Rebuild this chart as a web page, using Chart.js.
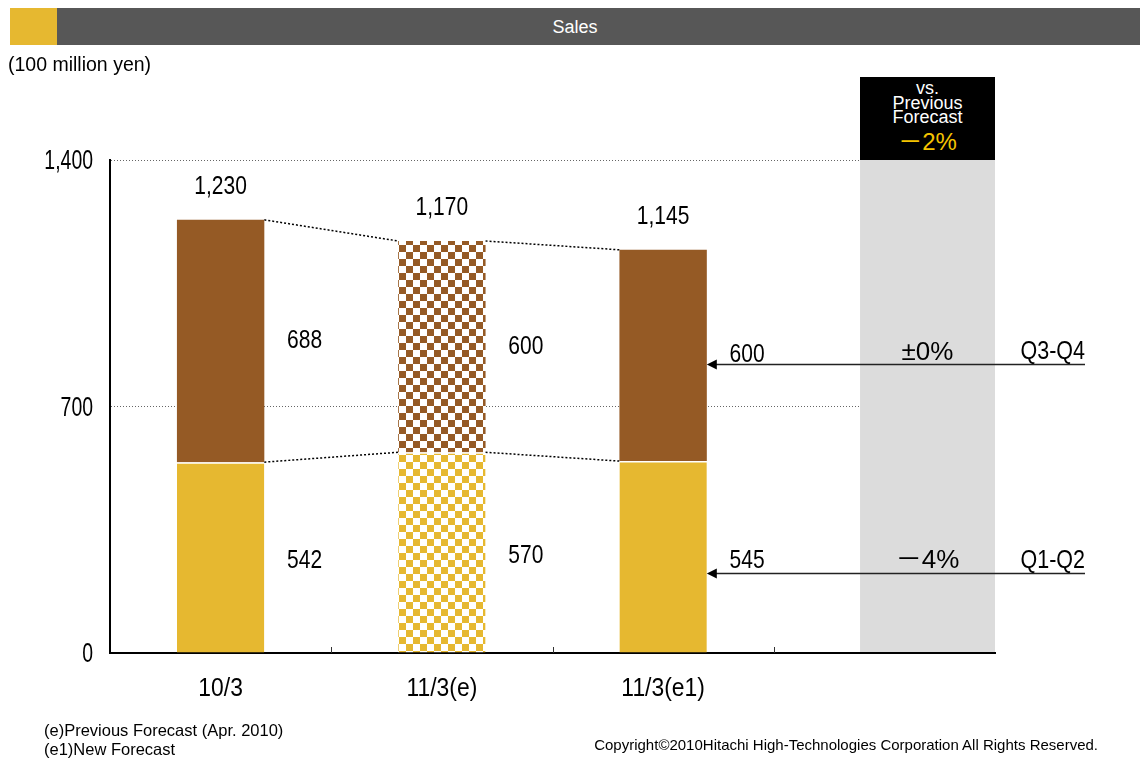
<!DOCTYPE html>
<html>
<head>
<meta charset="utf-8">
<script src="https://cdn.jsdelivr.net/npm/chart.js@4"></script>
<style>
  body { margin: 0; background: #fff; font-family: 'Liberation Sans', Arial, sans-serif; }
  #wrap { position: relative; width: 1140px; height: 763px; overflow: hidden; }
  #c { position: absolute; left: 0; top: 0; }
  .abs { position: absolute; white-space: nowrap; }
  #band { left: 10px; top: 8px; width: 1130px; height: 37px; background: #575757; color: #fff; font-size: 18px; line-height: 39px; text-align: center; }
  #mark { left: 10px; top: 8px; width: 47px; height: 37px; background: #e6b830; }
  #unit { left: 8px; top: 53px; font-size: 19.5px; }
  #vsbox { left: 860px; top: 77px; width: 135px; height: 83px; background: #000; color: #fff; text-align: center; font-size: 18px; line-height: 14.5px; padding-top: 4px; box-sizing: border-box; }
  #vsbox .pct { color: #f5c400; font-size: 24px; line-height: 26px; margin-top: 4px; font-family: 'Liberation Sans', 'Noto Sans CJK JP', sans-serif; }
  #notes { left: 44px; top: 721px; font-size: 16.5px; line-height: 19px; }
  #copy { right: 42px; top: 736px; font-size: 15px; }
</style>
</head>
<body>
<div id="wrap">
  <canvas id="c" width="1140" height="763"></canvas>
  <div class="abs" id="band">Sales</div>
  <div class="abs" id="mark"></div>
  <div class="abs" id="unit">(100 million yen)</div>
  <div class="abs" id="vsbox">vs.<br>Previous<br>Forecast<div class="pct" id="vsTotal"></div></div>
  <div class="abs" id="notes">(e)Previous Forecast (Apr. 2010)<br>(e1)New Forecast</div>
  <div class="abs" id="copy">Copyright©2010Hitachi High-Technologies Corporation All Rights Reserved.</div>
</div>
<script>
// data
const categories = ['10/3', '11/3(e)', '11/3(e1)', ''];
const q1q2 = [542, 570, 545, null];
const q3q4 = [688, 600, 600, null];
const totals = [1230, 1170, 1145];
const segNames = ['Q1-Q2', 'Q3-Q4'];
const vsPrev = ['－4%', '±0%'];   // Q1-Q2, Q3-Q4
const vsPrevTotal = '－2%';
const yTicks = [0, 700, 1400];

const GOLD = '#e6b830';
const BROWN = '#955a25';
const FONT = "'Liberation Sans', 'Noto Sans CJK JP', sans-serif";

document.getElementById('vsTotal').textContent = vsPrevTotal;

// checkered fill for the previous forecast bar
function checker(color) {
    const cv = document.createElement('canvas');
    cv.width = 14; cv.height = 14;
    const g = cv.getContext('2d');
    g.fillStyle = '#fff';
    g.fillRect(0, 0, 14, 14);
    g.fillStyle = color;
    g.fillRect(0, 0, 7, 7);
    g.fillRect(7, 7, 7, 7);
    return g.createPattern(cv, 'repeat');
}

// the original uses a narrow gothic face, so squeeze the text horizontally
function narrowText(ctx, text, x, y, size, align, sx) {
    ctx.save();
    ctx.font = size + 'px ' + FONT;
    ctx.fillStyle = '#000';
    ctx.textAlign = align;
    ctx.textBaseline = 'middle';
    ctx.translate(x, y);
    ctx.scale(sx, 1);
    ctx.fillText(text, 0, 0);
    ctx.restore();
}

const ctx = document.getElementById('c').getContext('2d');
const goldFill = [GOLD, checker(GOLD), GOLD, GOLD];
const brownFill = [BROWN, checker(BROWN), BROWN, BROWN];

const extras = {
    id: 'extras',
    beforeDatasetsDraw(chart) {
        const { ctx, chartArea: a } = chart;
        const cat = (a.right - a.left) / categories.length;
        const px0 = a.right - cat * 0.61;
        ctx.save();
        // grey comparison column
        ctx.fillStyle = '#dcdcdc';
        ctx.fillRect(px0, a.top, a.right - px0, a.bottom - a.top - 1);
        // small tick marks between categories
        ctx.strokeStyle = '#333';
        ctx.lineWidth = 1;
        for (let i = 1; i < categories.length; i++) {
            const tx = Math.round(a.left + cat * i) + 0.5;
            ctx.beginPath();
            ctx.moveTo(tx, a.bottom);
            ctx.lineTo(tx, a.bottom - 6);
            ctx.stroke();
        }
        ctx.restore();
    },
    afterDatasetsDraw(chart) {
        const { ctx, chartArea: a, scales: { x, y } } = chart;
        const cat = (a.right - a.left) / categories.length;
        const px0 = a.right - cat * 0.61;
        const low = chart.getDatasetMeta(0).data;
        const high = chart.getDatasetMeta(1).data;

        // axis labels
        yTicks.forEach(v => narrowText(ctx, v.toLocaleString('en-US'), a.left - 17, y.getPixelForValue(v) + 2, 27, 'right', 0.72));
        categories.forEach((c, i) => narrowText(ctx, c, x.getPixelForValue(i), a.bottom + 36, 26, 'center', 0.88));

        ctx.save();
        // dotted connectors between bars
        ctx.setLineDash([2, 2]);
        ctx.lineWidth = 1.5;
        ctx.strokeStyle = '#000';
        for (let i = 0; i < totals.length - 1; i++) {
            [high, low].forEach(set => {
                const p = set[i], q = set[i + 1];
                ctx.beginPath();
                ctx.moveTo(p.x + p.width / 2, p.y);
                ctx.lineTo(q.x - q.width / 2, q.y);
                ctx.stroke();
            });
        }
        ctx.restore();

        // value labels
        totals.forEach((t, i) => {
            const h = high[i], l = low[i];
            narrowText(ctx, t.toLocaleString('en-US'), h.x, h.y - 33, 25, 'center', 0.84);
            narrowText(ctx, String(q3q4[i]), h.x + 84, (h.y + h.base) / 2, 25, 'center', 0.84);
            narrowText(ctx, String(q1q2[i]), h.x + 84, (l.y + l.base) / 2 + 4, 25, 'center', 0.84);
        });

        // arrows + change vs previous forecast
        const k = totals.length - 1;
        const hb = high[k], lb = low[k];
        const rows = [
            [(hb.y + hb.base) / 2 - 3, vsPrev[1], segNames[1]],
            [(lb.y + lb.base) / 2 + 4, vsPrev[0], segNames[0]]
        ];
        const xEnd = a.right + 90;
        const xTip = hb.x + hb.width / 2;
        const cx = (px0 + a.right) / 2;
        ctx.save();
        rows.forEach(([yy, pct, name]) => {
            const ay = Math.round(yy + 12) + 0.5;
            ctx.strokeStyle = '#222';
            ctx.lineWidth = 1.5;
            ctx.beginPath();
            ctx.moveTo(xEnd, ay);
            ctx.lineTo(xTip + 8, ay);
            ctx.stroke();
            ctx.fillStyle = '#000';
            ctx.beginPath();
            ctx.moveTo(xTip, ay);
            ctx.lineTo(xTip + 10, ay - 5);
            ctx.lineTo(xTip + 10, ay + 5);
            ctx.closePath();
            ctx.fill();
            narrowText(ctx, pct, cx, yy, 26, 'center', 1);
            narrowText(ctx, name, xEnd, yy, 25, 'right', 0.86);
        });
        ctx.restore();
    }
};

new Chart(ctx, {
    type: 'bar',
    data: {
        labels: categories,
        datasets: [
            {
                label: segNames[0],
                data: q1q2,
                backgroundColor: goldFill,
                borderColor: '#fff',
                borderWidth: { top: 1.5, left: 0, right: 0, bottom: 0 },
                borderSkipped: false
            },
            {
                label: segNames[1],
                data: q3q4,
                backgroundColor: brownFill,
                borderWidth: 0
            }
        ]
    },
    options: {
        responsive: false,
        animation: false,
        devicePixelRatio: 1,
        layout: { padding: { top: 160, right: 145, left: 0, bottom: 0 } },
        datasets: { bar: { barPercentage: 0.395, categoryPercentage: 1 } },
        plugins: { legend: { display: false }, tooltip: { enabled: false } },
        scales: {
            x: {
                stacked: true,
                afterFit: s => { s.height = 110; },
                grid: { display: false },
                border: { color: '#000', width: 2 },
                ticks: { display: false }
            },
            y: {
                stacked: true,
                min: yTicks[0],
                max: yTicks[yTicks.length - 1],
                afterFit: s => { s.width = 110; },
                afterBuildTicks: s => { s.ticks = yTicks.map(v => ({ value: v })); },
                grid: { color: '#666', lineWidth: 1, drawTicks: false },
                border: { color: '#000', width: 2, dash: [1, 2] },
                ticks: { display: false }
            }
        }
    },
    plugins: [extras]
});
</script>
</body>
</html>
